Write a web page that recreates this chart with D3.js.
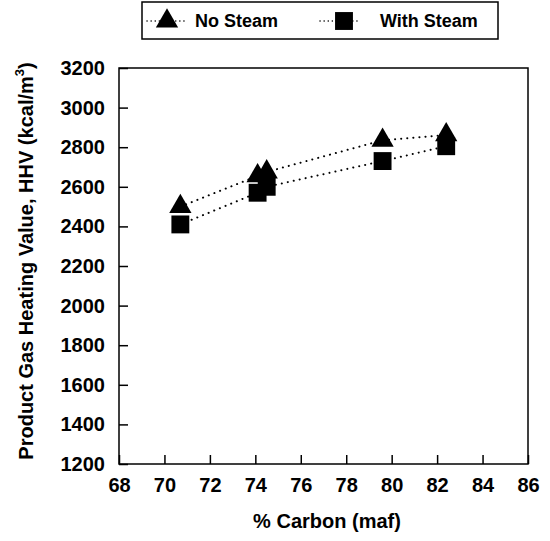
<!DOCTYPE html>
<html>
<head>
<meta charset="utf-8">
<script src="https://cdn.jsdelivr.net/npm/d3@7"></script>
<style>
  body { margin: 0; background: #fff; }
  text { font-family: "Liberation Sans", Arial, sans-serif; fill: #000; }
</style>
</head>
<body>
<div id="chart"></div>
<script>
// data
var carbon = [70.7, 74.1, 74.5, 79.6, 82.4];
var noSteam = [2500, 2655, 2675, 2835, 2862];
var withSteam = [2410, 2570, 2600, 2730, 2805];
var xTicks = [68, 70, 72, 74, 76, 78, 80, 82, 84, 86];
var yTicks = [1200, 1400, 1600, 1800, 2000, 2200, 2400, 2600, 2800, 3000, 3200];

var svgWidth = 550;
var svgHeight = 541;

var margin = { top: 68, bottom: 77, left: 119, right: 22 };
var width = svgWidth - margin.left - margin.right;
var height = svgHeight - margin.top - margin.bottom;

var svg = d3.select("#chart").append("svg")
    .attr("width", svgWidth)
    .attr("height", svgHeight);

var chartGroup = svg.append("g")
    .attr("transform", `translate(${margin.left}, ${margin.top})`);

var x = d3.scaleLinear().domain([68, 86]).range([0, width]);
var y = d3.scaleLinear().domain([1200, 3200]).range([height, 0]);

// frame
chartGroup.append("rect")
    .attr("width", width)
    .attr("height", height)
    .attr("fill", "none")
    .attr("stroke", "#000")
    .attr("stroke-width", 1.5);

// axes with inward ticks
var xAxis = chartGroup.append("g")
    .attr("transform", `translate(0, ${height})`)
    .call(d3.axisBottom(x).tickValues(xTicks).tickFormat(d3.format("d"))
        .tickSizeInner(-9).tickSizeOuter(0).tickPadding(14));

var yAxis = chartGroup.append("g")
    .call(d3.axisLeft(y).tickValues(yTicks).tickFormat(d3.format("d"))
        .tickSizeInner(-9).tickSizeOuter(0).tickPadding(14));

[xAxis, yAxis].forEach(function (ax) {
    ax.attr("font-size", 20).attr("font-family", "Liberation Sans, Arial, sans-serif");
    ax.select(".domain").remove();
    ax.selectAll(".tick line").attr("stroke", "#000").attr("stroke-width", 1.5);
    ax.selectAll(".tick text")
        .attr("font-weight", "bold")
        .attr("fill", "#000");
});

// axis titles
chartGroup.append("text")
    .attr("x", 208)
    .attr("y", height + 64)
    .attr("text-anchor", "middle")
    .attr("font-size", 20)
    .attr("font-weight", "bold")
    .text("% Carbon (maf)");

var yTitle = chartGroup.append("text")
    .attr("transform", "rotate(-90)")
    .attr("x", -height / 2 + 5)
    .attr("y", -86)
    .attr("text-anchor", "middle")
    .attr("font-size", 20)
    .attr("font-weight", "bold");
yTitle.append("tspan").text("Product  Gas Heating Value, HHV (kcal/m");
yTitle.append("tspan").attr("font-size", 13).attr("dy", -9).text("3");
yTitle.append("tspan").attr("dy", 9).text(")");

var triangle = d3.symbol().type(d3.symbolTriangle).size(215);
var square = d3.symbol().type(d3.symbolSquare).size(320);

var series = [
    { name: "No Steam", values: noSteam, shape: triangle },
    { name: "With Steam", values: withSteam, shape: square }
];

var line = d3.line()
    .x(d => x(d[0]))
    .y(d => y(d[1]));

series.forEach(function (s) {
    var pts = carbon.map((c, i) => [c, s.values[i]]);
    chartGroup.append("path")
        .attr("d", line(pts))
        .attr("fill", "none")
        .attr("stroke", "#000")
        .attr("stroke-width", 2)
        .attr("stroke-linecap", "round")
        .attr("stroke-dasharray", "0.1 6");
    chartGroup.selectAll(null)
        .data(pts)
        .enter()
        .append("path")
        .attr("d", s.shape)
        .attr("transform", d => `translate(${x(d[0])}, ${y(d[1])})`)
        .attr("fill", "#000");
});

// legend box
var legend = svg.append("g");
legend.append("rect")
    .attr("x", 142)
    .attr("y", 2)
    .attr("width", 356)
    .attr("height", 37)
    .attr("fill", "#fff")
    .attr("stroke", "#000")
    .attr("stroke-width", 1.5);

var legendX = [147, 320];
series.forEach(function (s, i) {
    var lx = legendX[i];
    legend.append("line")
        .attr("x1", lx)
        .attr("x2", lx + 40)
        .attr("y1", 21)
        .attr("y2", 21)
        .attr("stroke", "#000")
        .attr("stroke-width", 1.5)
        .attr("stroke-linecap", "round")
        .attr("stroke-dasharray", "0.1 4");
    legend.append("path")
        .attr("d", s.shape)
        .attr("transform", `translate(${lx + 20 + i * 4}, 21)`)
        .attr("fill", "#000");
    legend.append("text")
        .attr("x", lx + 48 + i * 12)
        .attr("y", 27)
        .attr("font-size", 18)
        .attr("font-weight", "bold")
        .text(s.name);
});
</script>
</body>
</html>
